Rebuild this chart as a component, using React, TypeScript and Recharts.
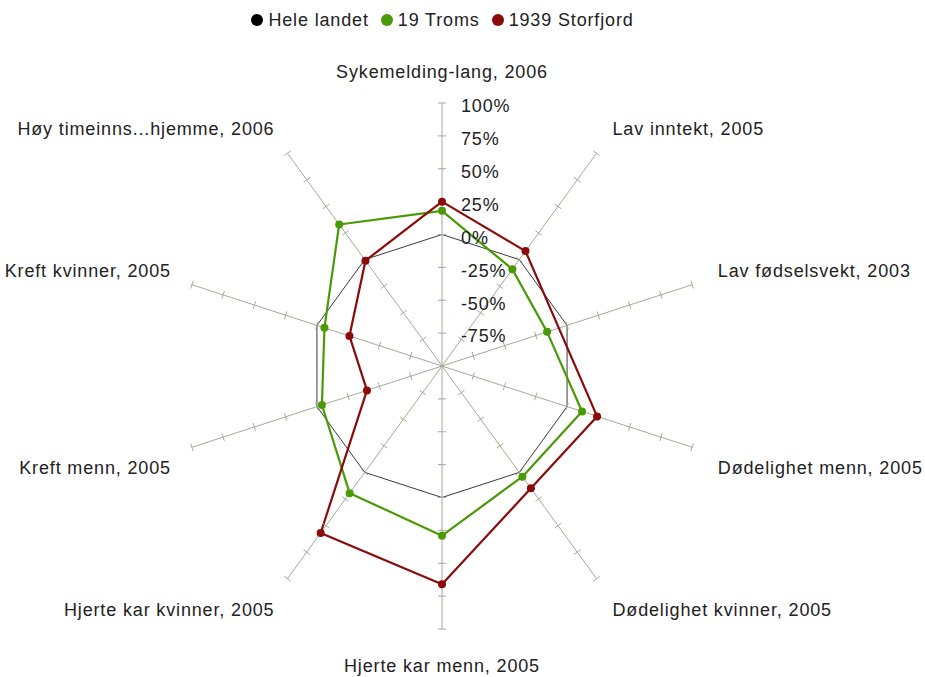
import React from "react"
import {
  RadarChart,
  Radar,
  PolarGrid,
  PolarAngleAxis,
  PolarRadiusAxis,
  Legend,
} from "recharts"

// Indicator names, clockwise from the top
const categories = [
  "Sykemelding-lang, 2006",
  "Lav inntekt, 2005",
  "Lav fødselsvekt, 2003",
  "Dødelighet menn, 2005",
  "Dødelighet kvinner, 2005",
  "Hjerte kar menn, 2005",
  "Hjerte kar kvinner, 2005",
  "Kreft menn, 2005",
  "Kreft kvinner, 2005",
  "Høy timeinns...hjemme, 2006",
]

// % deviation from the national level
const heleLandet = [0, 0, 0, 0, 0, 0, 0, 0, 0, 0]
const troms = [18, -9, -16, 12, 4, 29, 19.5, -4, -6, 33]
const storfjord: (number | null)[] = [25, 8, null, 24, 15, 66, 57, -40, -26, -1]

const radiusTicks = [-100, -75, -50, -25, 0, 25, 50, 75, 100]

const seriesNames = ["Hele landet", "19 Troms", "1939 Storfjord"]

const data = categories.map((name, i) => ({
  name,
  hele: heleLandet[i],
  troms: troms[i],
  storfjord: storfjord[i],
}))

const CX = 442
const CY = 366
const R = 263
const FONT = "'Liberation Sans', Arial, sans-serif"
const FS = 18
const LS = 0.85
const AXIS = "#a3aa98"
const GREEN = "#4a9a06"
const RED = "#8b0a0a"

const rad = (deg: number) => (deg * Math.PI) / 180

// polygon through the points that have a value (nulls are skipped)
function RadarShape(props: any) {
  const pts = (props.points || []).filter(
    (p: any) => p.value != null && Number.isFinite(p.x) && Number.isFinite(p.y)
  )
  if (!pts.length) return null
  const d =
    pts.map((p: any, i: number) => `${i ? "L" : "M"}${p.x},${p.y}`).join(" ") + " Z"
  return (
    <path
      d={d}
      fill="none"
      stroke={props.stroke}
      strokeWidth={props.strokeWidth}
      strokeLinejoin="round"
    />
  )
}

function makeDot(color: string, values: (number | null)[]) {
  return (props: any) => {
    const i = props.index
    if (values[i] == null || !Number.isFinite(props.cx) || !Number.isFinite(props.cy))
      return <g key={`d${i}`} />
    return <circle key={`d${i}`} cx={props.cx} cy={props.cy} r={4} fill={color} />
  }
}

// cross ticks on all spokes + % labels on the vertical one
function RadiusTick(props: any) {
  const r = props.payload?.coordinate ?? 0
  const value = props.payload?.value
  const marks = categories.map((_, i) => {
    const a = rad(i * 36)
    const x = CX + r * Math.sin(a)
    const y = CY - r * Math.cos(a)
    const px = Math.cos(a) * 4
    const py = Math.sin(a) * 4
    return (
      <line
        key={i}
        x1={x - px}
        y1={y - py}
        x2={x + px}
        y2={y + py}
        stroke={AXIS}
        strokeWidth={1}
      />
    )
  })
  return (
    <g>
      {r > 0 && marks}
      {value > -100 && (
        <text
          x={CX + 19}
          y={CY - r + 3}
          dy="0.35em"
          fontSize={FS}
          fontFamily={FONT}
          letterSpacing={LS}
          fill="#222"
        >
          {value}%
        </text>
      )}
    </g>
  )
}

function AngleTick(props: any) {
  const i = props.index ?? categories.indexOf(props.payload?.value)
  const a = rad(i * 36)
  const s = Math.sin(a)
  const c = Math.cos(a)
  let anchor: "start" | "middle" | "end" = "middle"
  if (s > 0.1) anchor = "start"
  if (s < -0.1) anchor = "end"
  const x = CX + (s > 0 ? 290 : 285) * s
  let y = CY - 297 * c + 3
  if (Math.abs(c) < 0.5) y += c < 0 ? 7 : -7
  return (
    <text
      x={x}
      y={y}
      dy="0.35em"
      textAnchor={anchor}
      fontSize={FS}
      fontFamily={FONT}
      letterSpacing={LS}
      fill="#222"
    >
      {props.payload?.value}
    </text>
  )
}

function LegendContent() {
  const colors = ["#000", GREEN, RED]
  return (
    <div
      style={{
        display: "flex",
        justifyContent: "center",
        alignItems: "center",
        fontFamily: FONT,
        fontSize: FS,
        letterSpacing: LS,
        color: "#222",
        lineHeight: "20px",
      }}
    >
      {seriesNames.map((n, i) => (
        <span
          key={n}
          style={{ display: "flex", alignItems: "center", marginLeft: i ? 12 : 0 }}
        >
          <span
            style={{
              width: 12,
              height: 12,
              borderRadius: 6,
              background: colors[i],
              marginRight: 5,
              display: "inline-block",
            }}
          />
          {n}
        </span>
      ))}
    </div>
  )
}

export default function App() {
  return (
    <div
      style={{
        position: "absolute",
        left: 0,
        top: 0,
        width: 925,
        height: 677,
        background: "#fff",
      }}
    >
      <RadarChart width={925} height={677} data={data} cx={CX} cy={CY} outerRadius={R}>
        <PolarGrid gridType="polygon" polarRadius={[0]} stroke={AXIS} />
        <PolarAngleAxis dataKey="name" tick={<AngleTick />} tickLine={false} axisLine={false} />
        <PolarRadiusAxis
          angle={90}
          domain={[-100, 100]}
          ticks={radiusTicks as any}
          tickCount={9}
          axisLine={false}
          tick={<RadiusTick />}
        />
        <Radar
          name={seriesNames[0]}
          dataKey="hele"
          stroke="#3a3a3a"
          strokeWidth={1}
          fill="none"
          dot={false}
          shape={<RadarShape />}
          isAnimationActive={false}
        />
        <Radar
          name={seriesNames[1]}
          dataKey="troms"
          stroke={GREEN}
          strokeWidth={2.2}
          fill="none"
          dot={makeDot(GREEN, troms)}
          shape={<RadarShape />}
          isAnimationActive={false}
        />
        <Radar
          name={seriesNames[2]}
          dataKey="storfjord"
          stroke={RED}
          strokeWidth={2.2}
          fill="none"
          dot={makeDot(RED, storfjord)}
          shape={<RadarShape />}
          isAnimationActive={false}
        />
        <Legend
          verticalAlign="top"
          content={<LegendContent />}
          wrapperStyle={{ top: 10, left: 0, width: 885 }}
        />
      </RadarChart>
    </div>
  )
}
